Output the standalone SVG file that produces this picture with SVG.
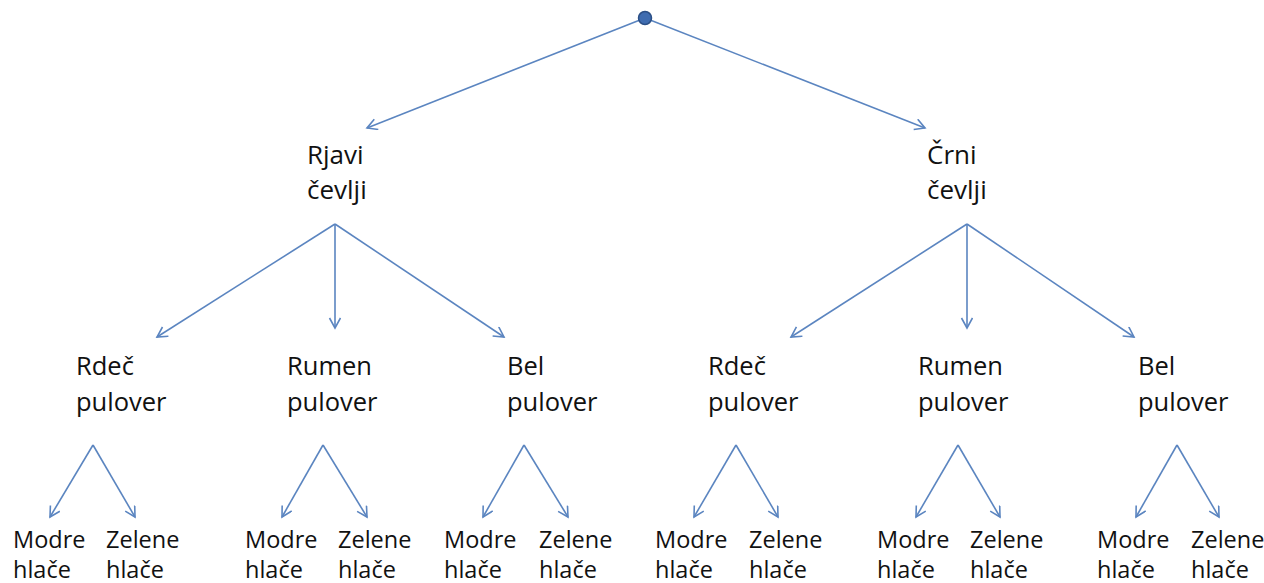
<svg xmlns="http://www.w3.org/2000/svg" width="1264" height="583" viewBox="0 0 1264 583">
<style>
  .lbl { font-family: "Open Sans", "Liberation Sans", sans-serif; fill: #111; }
  .l1 { font-size: 26px; }
  .l2 { font-size: 25.5px; }
  .l3 { font-size: 23.5px; }
  .edge { stroke: #5b85c0; stroke-width: 1.6; fill: none; marker-end: url(#arr); }
</style>
<defs>
  <marker id="arr" markerUnits="userSpaceOnUse" markerWidth="14" markerHeight="14" refX="11" refY="6" orient="auto">
    <path d="M1,0.5 L11,6 L1,11.5" fill="none" stroke="#5b85c0" stroke-width="1.6"/>
  </marker>
</defs>
<rect width="1264" height="583" fill="#fff"/>
<g id="connectors">
  <line class="edge" x1="645" y1="18" x2="367" y2="128"/>
  <line class="edge" x1="645" y1="18" x2="925" y2="128"/>
  <line class="edge" x1="335" y1="224" x2="157" y2="337"/>
  <line class="edge" x1="335" y1="224" x2="335" y2="328"/>
  <line class="edge" x1="335" y1="224" x2="504" y2="337"/>
  <line class="edge" x1="967" y1="224" x2="791" y2="337"/>
  <line class="edge" x1="967" y1="224" x2="967" y2="328"/>
  <line class="edge" x1="967" y1="224" x2="1134" y2="337"/>
  <line class="edge" x1="93" y1="445" x2="50" y2="517"/>
  <line class="edge" x1="93" y1="445" x2="135" y2="517"/>
  <line class="edge" x1="323" y1="445" x2="282" y2="517"/>
  <line class="edge" x1="323" y1="445" x2="367" y2="517"/>
  <line class="edge" x1="524" y1="445" x2="483" y2="517"/>
  <line class="edge" x1="524" y1="445" x2="568" y2="517"/>
  <line class="edge" x1="736" y1="445" x2="694" y2="517"/>
  <line class="edge" x1="736" y1="445" x2="778" y2="517"/>
  <line class="edge" x1="958" y1="445" x2="916" y2="517"/>
  <line class="edge" x1="958" y1="445" x2="1000" y2="517"/>
  <line class="edge" x1="1177" y1="445" x2="1136" y2="517"/>
  <line class="edge" x1="1177" y1="445" x2="1219" y2="517"/>
</g>
<g id="root"><circle cx="645" cy="18" r="6.5" fill="#3f6cb0" stroke="#2b4f86" stroke-width="1.5"/></g>
<g id="rjavi"><text class="lbl l1"><tspan x="307" y="164">Rjavi</tspan><tspan x="307" y="199">čevlji</tspan></text></g>
<g id="crni"><text class="lbl l1"><tspan x="927" y="164">Črni</tspan><tspan x="927" y="199">čevlji</tspan></text></g>
<g id="rdec1"><text class="lbl l2"><tspan x="76" y="375">Rdeč</tspan><tspan x="76" y="411">pulover</tspan></text></g>
<g id="rumen1"><text class="lbl l2"><tspan x="287" y="375">Rumen</tspan><tspan x="287" y="411">pulover</tspan></text></g>
<g id="bel1"><text class="lbl l2"><tspan x="507" y="375">Bel</tspan><tspan x="507" y="411">pulover</tspan></text></g>
<g id="rdec2"><text class="lbl l2"><tspan x="708" y="375">Rdeč</tspan><tspan x="708" y="411">pulover</tspan></text></g>
<g id="rumen2"><text class="lbl l2"><tspan x="918" y="375">Rumen</tspan><tspan x="918" y="411">pulover</tspan></text></g>
<g id="bel2"><text class="lbl l2"><tspan x="1138" y="375">Bel</tspan><tspan x="1138" y="411">pulover</tspan></text></g>
<g id="modre1"><text class="lbl l3"><tspan x="13" y="548">Modre</tspan><tspan x="13" y="578">hlače</tspan></text></g>
<g id="zelene1"><text class="lbl l3"><tspan x="106" y="548">Zelene</tspan><tspan x="106" y="578">hlače</tspan></text></g>
<g id="modre2"><text class="lbl l3"><tspan x="245" y="548">Modre</tspan><tspan x="245" y="578">hlače</tspan></text></g>
<g id="zelene2"><text class="lbl l3"><tspan x="338" y="548">Zelene</tspan><tspan x="338" y="578">hlače</tspan></text></g>
<g id="modre3"><text class="lbl l3"><tspan x="444" y="548">Modre</tspan><tspan x="444" y="578">hlače</tspan></text></g>
<g id="zelene3"><text class="lbl l3"><tspan x="539" y="548">Zelene</tspan><tspan x="539" y="578">hlače</tspan></text></g>
<g id="modre4"><text class="lbl l3"><tspan x="655" y="548">Modre</tspan><tspan x="655" y="578">hlače</tspan></text></g>
<g id="zelene4"><text class="lbl l3"><tspan x="749" y="548">Zelene</tspan><tspan x="749" y="578">hlače</tspan></text></g>
<g id="modre5"><text class="lbl l3"><tspan x="877" y="548">Modre</tspan><tspan x="877" y="578">hlače</tspan></text></g>
<g id="zelene5"><text class="lbl l3"><tspan x="970" y="548">Zelene</tspan><tspan x="970" y="578">hlače</tspan></text></g>
<g id="modre6"><text class="lbl l3"><tspan x="1097" y="548">Modre</tspan><tspan x="1097" y="578">hlače</tspan></text></g>
<g id="zelene6"><text class="lbl l3"><tspan x="1191" y="548">Zelene</tspan><tspan x="1191" y="578">hlače</tspan></text></g>
</svg>
